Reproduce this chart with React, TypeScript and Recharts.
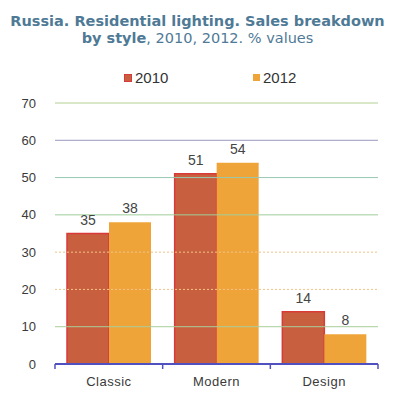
import React from "react";
import { BarChart, Bar, XAxis, YAxis, ReferenceLine, LabelList } from "recharts";

const categories = ["Classic", "Modern", "Design"];
const values2010 = [35, 51, 14];
const values2012 = [38, 54, 8];
const yTicks = [0, 10, 20, 30, 40, 50, 60, 70];
const gridStyles: { v: number; stroke: string; dash?: string }[] = [
  { v: 10, stroke: "#a8cf98" },
  { v: 20, stroke: "#f2c48a", dash: "2 2" },
  { v: 30, stroke: "#f2c48a", dash: "2 2" },
  { v: 40, stroke: "#9fcf9a" },
  { v: 50, stroke: "#98c8b0" },
  { v: 60, stroke: "#9a9ac0" },
  { v: 70, stroke: "#b0d090" },
];

const data = categories.map((c, i) => ({ name: c, y2010: values2010[i], y2012: values2012[i] }));

const FONT = "'Liberation Sans', Arial, sans-serif";

const XTick = (props: any) => {
  const { x, y, payload, index } = props;
  const half = payload && typeof payload.offset === "number" && payload.offset > 0 ? payload.offset : 323 / 6;
  return (
    <g>
      <line x1={x - half} y1={y - 8} x2={x - half} y2={y - 3} stroke="#5050c0" strokeWidth={1.5} />
      {index === categories.length - 1 && (
        <line x1={x + half} y1={y - 8} x2={x + half} y2={y - 3} stroke="#5050c0" strokeWidth={1.5} />
      )}
      <text x={x} y={y + 14} textAnchor="middle" fontSize={13} fill="#3a3a3a" fontFamily={FONT} letterSpacing={0.5}>
        {payload.value}
      </text>
    </g>
  );
};

export default function App() {
  return (
    <div style={{ position: "absolute", left: 0, top: 0, width: 395, height: 405, background: "#fff" }}>
      <div
        style={{
          position: "absolute",
          left: 0,
          top: 13,
          width: 395,
          textAlign: "center",
          fontFamily: "'DejaVu Sans', Verdana, sans-serif",
          fontSize: 14.5,
          lineHeight: "17px",
          color: "#4f7a96",
        }}
      >
        <div style={{ fontWeight: "bold", whiteSpace: "nowrap" }}>Russia. Residential lighting. Sales breakdown</div>
        <div>
          <span style={{ fontWeight: "bold" }}>by style</span>, 2010, 2012. % values
        </div>
      </div>
      <div style={{ position: "absolute", left: 124, top: 69, display: "flex", alignItems: "center", fontFamily: FONT, fontSize: 15, color: "#333" }}>
        <span style={{ width: 6, height: 6, background: "#c8603f", border: "1px solid #d83a3a", marginRight: 3 }} />
        <span>2010</span>
      </div>
      <div style={{ position: "absolute", left: 253, top: 69, display: "flex", alignItems: "center", fontFamily: FONT, fontSize: 15, color: "#333" }}>
        <span style={{ width: 7, height: 7, background: "#efa43a", marginRight: 3 }} />
        <span>2012</span>
      </div>
      <div style={{ position: "absolute", left: 0, top: 0 }}>
        <BarChart
          width={395}
          height={405}
          data={data}
          margin={{ top: 103, right: 17, bottom: 11, left: 15 }}
          barGap={0}
          barCategoryGap={12}
        >
          {gridStyles.map((g) => (
            <ReferenceLine key={g.v} y={g.v} stroke={g.stroke} strokeWidth={1} strokeDasharray={g.dash} />
          ))}
          <YAxis
            domain={[0, 70]}
            ticks={yTicks}
            width={40}
            axisLine={false}
            tickLine={false}
            tickSize={0}
            tickMargin={19}
            interval={0}
            tick={{ fontSize: 13, fill: "#3a3a3a", fontFamily: FONT }}
          />
          <XAxis
            dataKey="name"
            axisLine={{ stroke: "#5050c0", strokeWidth: 2 }}
            tickLine={false}
            tick={<XTick />}
            interval={0}
          />
          <Bar dataKey="y2010" fill="#c8603f" stroke="#d83a3a" strokeWidth={1.5} isAnimationActive={false}>
            <LabelList dataKey="y2010" position="top" offset={9} fontSize={14} fill="#444" fontFamily={FONT} />
          </Bar>
          <Bar dataKey="y2012" fill="#efa43a" isAnimationActive={false}>
            <LabelList dataKey="y2012" position="top" offset={9} fontSize={14} fill="#444" fontFamily={FONT} />
          </Bar>
        </BarChart>
      </div>
    </div>
  );
}
